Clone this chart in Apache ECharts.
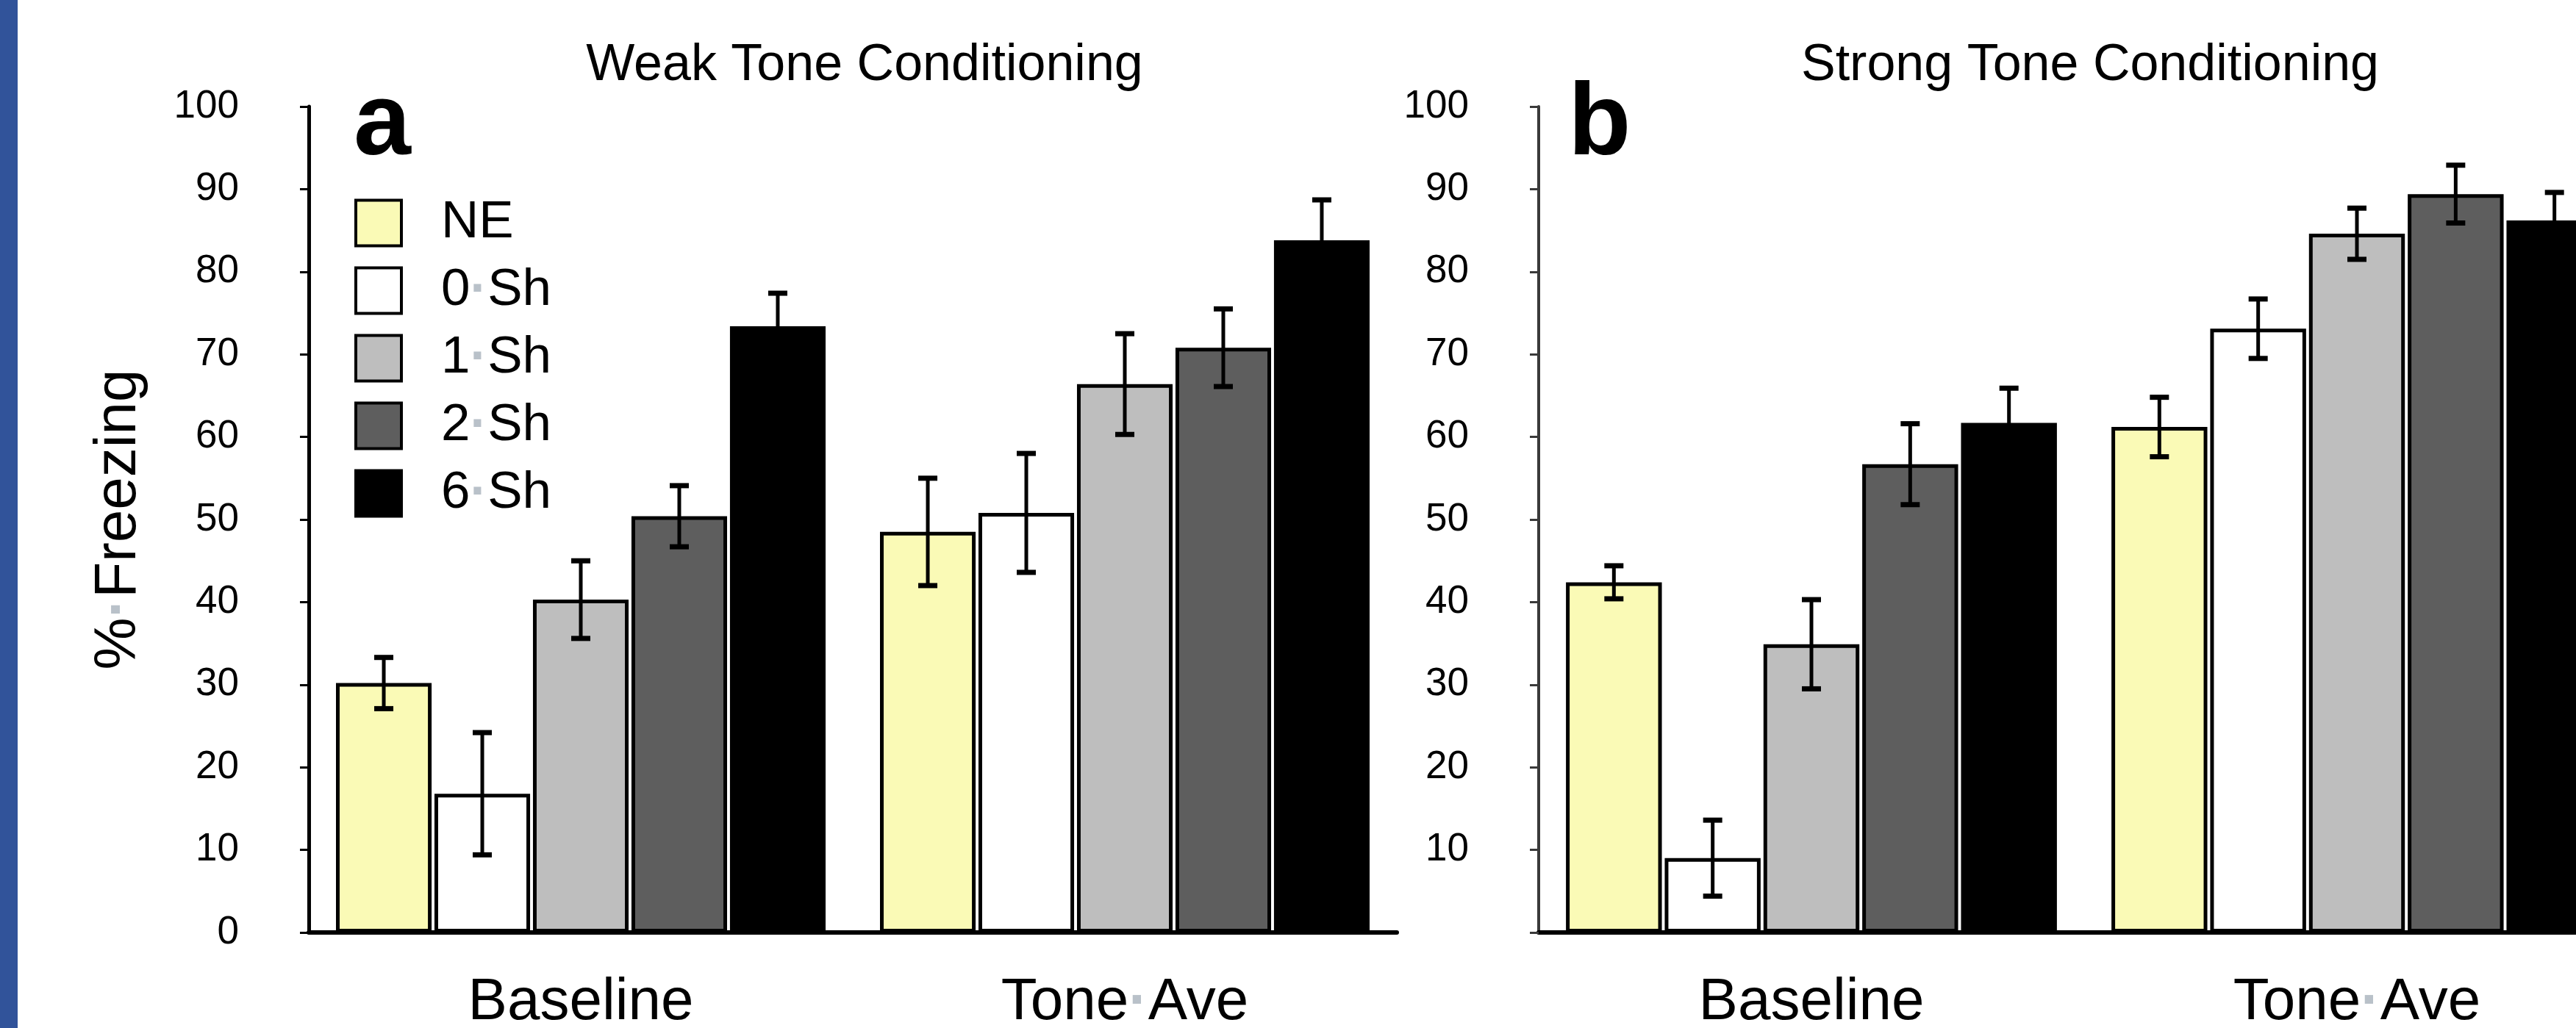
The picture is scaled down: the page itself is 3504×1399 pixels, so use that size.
<!DOCTYPE html>
<html>
<head>
<meta charset="utf-8">
<title>Weak / Strong Tone Conditioning</title>
<script src="https://cdn.jsdelivr.net/npm/echarts@6/dist/echarts.min.js"></script>
<style>
html, body { margin: 0; padding: 0; background: #fff; }
#chart { width: 3504px; height: 1399px; }
</style>
</head>
<body>
<div id="chart"></div>
<script>
// categories (x) and groups (legend)
var categories = ['Baseline', 'Tone Ave'];
var groups = ['NE', '0 Sh', '1 Sh', '2 Sh', '6 Sh'];

// Weak tone conditioning: % freezing [Baseline, Tone Ave]
var weakNE  = [30.2, 48.5];
var weak0Sh = [16.8, 50.8];
var weak1Sh = [40.3, 66.4];
var weak2Sh = [50.4, 70.8];
var weak6Sh = [73.4, 83.8];
// error bars (+/-)
var weakNEErr  = [3.1, 6.5];
var weak0ShErr = [7.4, 7.2];
var weak1ShErr = [4.7, 6.1];
var weak2ShErr = [3.7, 4.7];
var weak6ShErr = [4.0, 4.9];

// Strong tone conditioning
var strongNE  = [42.4, 61.2];
var strong0Sh = [9.0, 73.1];
var strong1Sh = [34.9, 84.6];
var strong2Sh = [56.7, 89.4];
var strong6Sh = [61.7, 86.2];
var strongNEErr  = [2.0, 3.6];
var strong0ShErr = [4.6, 3.6];
var strong1ShErr = [5.4, 3.1];
var strong2ShErr = [4.9, 3.5];
var strong6ShErr = [4.2, 3.4];

var weakMeans = [weakNE, weak0Sh, weak1Sh, weak2Sh, weak6Sh];
var weakErrs = [weakNEErr, weak0ShErr, weak1ShErr, weak2ShErr, weak6ShErr];
var strongMeans = [strongNE, strong0Sh, strong1Sh, strong2Sh, strong6Sh];
var strongErrs = [strongNEErr, strong0ShErr, strong1ShErr, strong2ShErr, strong6ShErr];

var groupColors = ['#fafab6', '#ffffff', '#bebebe', '#5e5e5e', '#000000'];
var FONT = '"Liberation Sans", Arial, Helvetica, sans-serif';
var CAT_GAP = 0.10, BAR_GAP = 0.03;
var dotStyle = { color: '#b9c1c9', fontWeight: 'bold', fontFamily: FONT };

// spaces are shown as small grey dots
function dotted(s) {
    return s.split(' ').join('{d|·}');
}

function barSeries(means, axis) {
    return groups.map(function (g, i) {
        return {
            name: g,
            type: 'bar',
            xAxisIndex: axis,
            yAxisIndex: axis,
            data: means[i],
            barGap: (BAR_GAP * 100) + '%',
            barCategoryGap: (CAT_GAP * 100) + '%',
            itemStyle: { color: groupColors[i], borderColor: '#000', borderWidth: 5 },
            silent: true
        };
    });
}

function errorSeries(means, errs, axis) {
    var data = [];
    groups.forEach(function (g, i) {
        categories.forEach(function (c, j) {
            data.push([j, means[i][j] - errs[i][j], means[i][j] + errs[i][j], i]);
        });
    });
    return {
        type: 'custom',
        xAxisIndex: axis,
        yAxisIndex: axis,
        z: 5,
        silent: true,
        encode: { x: 0, y: [1, 2] },
        data: data,
        renderItem: function (params, api) {
            var n = groups.length;
            var band = api.size([1, 0])[0];
            var inner = band * (1 - CAT_GAP);
            var w = inner / (n + (n - 1) * BAR_GAP);
            var x = api.coord([api.value(0), 0])[0] - inner / 2 + w / 2 + api.value(3) * w * (1 + BAR_GAP);
            var yLo = api.coord([api.value(0), api.value(1)])[1];
            var yHi = api.coord([api.value(0), api.value(2)])[1];
            var cap = 13;
            return {
                type: 'group',
                children: [
                    { type: 'line', shape: { x1: x, y1: yLo, x2: x, y2: yHi }, style: { stroke: '#000', lineWidth: 5 } },
                    { type: 'line', shape: { x1: x - cap, y1: yHi, x2: x + cap, y2: yHi }, style: { stroke: '#000', lineWidth: 7 } },
                    { type: 'line', shape: { x1: x - cap, y1: yLo, x2: x + cap, y2: yLo }, style: { stroke: '#000', lineWidth: 7 } }
                ]
            };
        }
    };
}

function xAxis(grid) {
    return {
        type: 'category',
        gridIndex: grid,
        data: categories,
        axisLine: { show: true, lineStyle: { color: '#000', width: 6 } },
        axisTick: { show: false },
        axisLabel: {
            margin: 56,
            fontSize: 80,
            lineHeight: 80,
            color: '#000',
            fontFamily: FONT,
            formatter: function (v) { return dotted(v); },
            rich: { d: Object.assign({ fontSize: 80, lineHeight: 80 }, dotStyle) }
        },
        splitLine: { show: false }
    };
}

function yAxis(grid, lineColor, lineWidth, showZero) {
    return {
        type: 'value',
        gridIndex: grid,
        min: 0,
        max: 100,
        interval: 10,
        axisLine: { show: true, lineStyle: { color: lineColor, width: lineWidth } },
        axisTick: { show: true, length: 12, lineStyle: { color: lineColor, width: 3 } },
        axisLabel: {
            margin: 95,
            fontSize: 53,
            color: '#000',
            fontFamily: FONT,
            formatter: function (v) { return (v === 0 && !showZero) ? '' : String(v); }
        },
        splitLine: { show: false }
    };
}

var chart = echarts.init(document.getElementById('chart'));

var leftY = yAxis(0, '#000', 5, true);
leftY.name = dotted('% Freezing');
leftY.nameLocation = 'middle';
leftY.nameRotate = 90;
leftY.nameGap = 218;
leftY.nameTextStyle = {
    fontSize: 80,
    lineHeight: 80,
    color: '#000',
    fontFamily: FONT,
    rich: { d: Object.assign({ fontSize: 80, lineHeight: 80 }, dotStyle) }
};

var option = {
    animation: false,
    backgroundColor: '#fff',
    grid: [
        { left: 420, top: 145, width: 1480, height: 1124, outerBoundsMode: 'none' },
        { left: 2093, top: 145, width: 1484, height: 1124, outerBoundsMode: 'none' }
    ],
    xAxis: [xAxis(0), xAxis(1)],
    yAxis: [leftY, yAxis(1, '#3a3a3a', 4, false)],
    legend: {
        data: groups,
        orient: 'vertical',
        left: 482,
        top: 268,
        padding: 0,
        itemWidth: 62,
        itemHeight: 62,
        itemGap: 21,
        icon: 'rect',
        selectedMode: false,
        itemStyle: { borderColor: '#000', borderWidth: 4 },
        formatter: function (name) { return dotted(name); },
        textStyle: {
            fontSize: 71,
            lineHeight: 62,
            color: '#000',
            fontFamily: FONT,
            padding: [0, 0, 0, 49],
            rich: { d: Object.assign({ fontSize: 71, lineHeight: 62 }, dotStyle) }
        }
    },
    graphic: [
        { type: 'rect', shape: { x: 0, y: 0, width: 24, height: 1399 }, style: { fill: '#31539a' } },
        { type: 'text', x: 1176, y: 90, style: { text: 'Weak Tone Conditioning', font: '70px ' + FONT, fill: '#000', align: 'center', verticalAlign: 'middle' } },
        { type: 'text', x: 2843, y: 90, style: { text: 'Strong Tone Conditioning', font: '70px ' + FONT, fill: '#000', align: 'center', verticalAlign: 'middle' } },
        { type: 'text', x: 481, y: 171, style: { text: 'a', font: 'bold 140px ' + FONT, fill: '#000', align: 'left', verticalAlign: 'middle' } },
        { type: 'text', x: 2133, y: 171, style: { text: 'b', font: 'bold 140px ' + FONT, fill: '#000', align: 'left', verticalAlign: 'middle' } }
    ],
    series: [].concat(
        barSeries(weakMeans, 0),
        [errorSeries(weakMeans, weakErrs, 0)],
        barSeries(strongMeans, 1),
        [errorSeries(strongMeans, strongErrs, 1)]
    )
};

chart.setOption(option);
</script>
</body>
</html>
